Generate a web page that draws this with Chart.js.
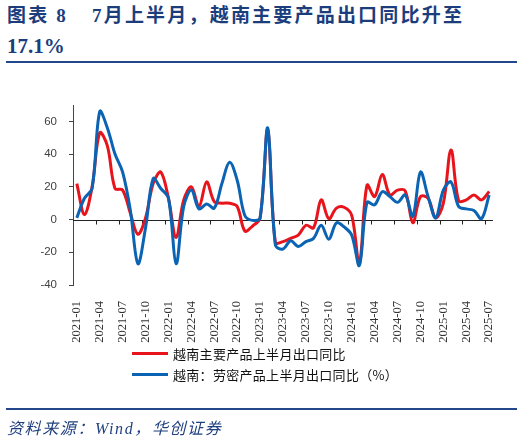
<!DOCTYPE html>
<html>
<head>
<meta charset="utf-8">
<script src="https://cdn.jsdelivr.net/npm/chart.js@4.4.1/dist/chart.umd.min.js"></script>
<style>
  html, body { margin: 0; padding: 0; background: #fff; }
  body { width: 524px; height: 443px; position: relative; overflow: hidden; }
  #chart { position: absolute; left: 0; top: 0; width: 524px; height: 443px; }
  .title { position: absolute; color: #1c3d7c; font-weight: bold; white-space: nowrap;
           font-family: 'Liberation Serif', 'Noto Sans CJK SC', serif; }
  .rule { position: absolute; left: 6px; width: 511px; height: 2px; background: #23478a; }
  #source { position: absolute; left: 7px; top: 421px; font-size: 16px; line-height: 16px;
            font-style: italic; color: #1f3f7f; letter-spacing: 1.6px; white-space: nowrap;
            font-family: 'Liberation Serif', 'Noto Sans CJK SC', serif; }
  #legend { position: absolute; left: 132px; top: 343px; }
  .item { height: 21px; display: flex; align-items: center; }
  .swatch { width: 36px; height: 3px; margin-right: 5px; }
  .item span { font-family: 'Noto Sans CJK SC', sans-serif; font-size: 13px; color: #111;
               letter-spacing: 0.3px; white-space: nowrap; }
</style>
</head>
<body>
<div class="title" style="left:7px;top:6px;font-size:19px;line-height:19px;letter-spacing:2.2px;">图表 8</div>
<div class="title" style="left:92px;top:6px;font-size:19px;line-height:19px;letter-spacing:2.2px;">7月上半月，越南主要产品出口同比升至</div>
<div class="title" style="left:7px;top:36px;font-size:21px;line-height:21px;">17.1%</div>
<div class="rule" style="top:61px;"></div>
<canvas id="chart" width="524" height="443"></canvas>
<div id="legend"></div>
<div class="rule" style="top:408px;"></div>
<div id="source">资料来源：Wind，华创证券</div>

<script>
// 月份（每月上半月）
const months = [
  '2021-01','2021-02','2021-03','2021-04','2021-05','2021-06','2021-07','2021-08','2021-09','2021-10','2021-11','2021-12',
  '2022-01','2022-02','2022-03','2022-04','2022-05','2022-06','2022-07','2022-08','2022-09','2022-10','2022-11','2022-12',
  '2023-01','2023-02','2023-03','2023-04','2023-05','2023-06','2023-07','2023-08','2023-09','2023-10','2023-11','2023-12',
  '2024-01','2024-02','2024-03','2024-04','2024-05','2024-06','2024-07','2024-08','2024-09','2024-10','2024-11','2024-12',
  '2025-01','2025-02','2025-03','2025-04','2025-05','2025-06','2025-07'
];

// 越南主要产品上半月出口同比（%）
const mainExports = [
  22, 3, 20, 53, 45, 19, 18, 4, -9, 1, 22, 29,
  13, -11, 12, 20, 8, 23, 11, 10, 10, 8, -7, -4,
  1, 55, -14, -13.5, -11.5, -9.5, -3.5, -5, 12, 0.5, 7, 7.5,
  2.5, -27, 21, 14, 27.5, 15, 18, 17.5, -2, 14, 13, 1,
  10, 42.5, 11.5, 12, 15, 12, 17.1
];

// 越南：劳密产品上半月出口同比（%）
const laborExports = [
  1, 13, 19, 66, 56, 40, 29, 6, -27, -5, 25, 19,
  13, -27, 8, 18, 6.5, 9.5, 7, 22, 35, 24, 2.5, -0.5,
  1, 56, -15.5, -18, -13, -16.5, -13.5, -11.5, -3.5, -12, -2, -4.5,
  -9.5, -28, 10.5, 9, 17, 14, 10.5, 15, 2, 29, 14, 1,
  18, 23, 8, 6.5, 5.5, 0.5, 15
];

const yTicks = [-40, -20, 0, 20, 40, 60];

const seriesNames = ['越南主要产品上半月出口同比', '越南：劳密产品上半月出口同比（%）'];
const seriesColors = ['#e8141c', '#0b63b3'];

// 零轴线和刻度线（画在折线下面）
const zeroAxis = {
  id: 'zeroAxis',
  beforeDatasetsDraw(chart) {
    const ctx = chart.ctx;
    const x = chart.scales.x;
    const y = chart.scales.y;
    const y0 = Math.round(y.getPixelForValue(0)) + 0.5;
    ctx.save();
    ctx.strokeStyle = '#222';
    ctx.lineWidth = 1;
    ctx.beginPath();
    ctx.moveTo(chart.chartArea.left, y0);
    ctx.lineTo(chart.chartArea.right, y0);
    for (let i = 3; i < months.length; i += 3) {
      const px = Math.round((x.getPixelForValue(i - 1) + x.getPixelForValue(i)) / 2) + 0.5;
      ctx.moveTo(px, y0);
      ctx.lineTo(px, y0 + 4);
    }
    ctx.stroke();
    ctx.restore();
  }
};

new Chart(document.getElementById('chart'), {
  type: 'line',
  data: {
    labels: months,
    datasets: [
      { label: seriesNames[0], data: mainExports, borderColor: seriesColors[0], order: 1 },
      { label: seriesNames[1], data: laborExports, borderColor: seriesColors[1], order: 0 }
    ]
  },
  options: {
    responsive: false,
    animation: false,
    layout: { padding: { left: 0, right: 31, top: 105, bottom: 98 } },
    elements: {
      line: { borderWidth: 3, tension: 0.35, fill: false },
      point: { radius: 0 }
    },
    plugins: { legend: { display: false }, tooltip: { enabled: false } },
    scales: {
      x: {
        offset: true,
        grid: { display: false },
        border: { display: false },
        afterFit(scale) { scale.height = 60; },
        ticks: {
          autoSkip: false,
          minRotation: 90,
          maxRotation: 90,
          padding: 8,
          color: '#333',
          font: { family: 'Liberation Serif', size: 12.5 },
          callback(value, index) { return index % 3 === 0 ? months[index] : ''; }
        }
      },
      y: {
        min: -40,
        max: 70,
        afterBuildTicks(scale) { scale.ticks = yTicks.map(v => ({ value: v })); },
        afterFit(scale) { scale.width = 73; },
        grid: { drawOnChartArea: false, drawTicks: true, tickLength: 4, color: '#444' },
        border: { display: true, color: '#444', width: 1 },
        ticks: {
          padding: 12,
          color: '#404040',
          font: { family: 'Liberation Sans', size: 11.5 }
        }
      }
    }
  },
  plugins: [zeroAxis]
});

// 图例
const legend = document.getElementById('legend');
seriesNames.forEach((name, i) => {
  const row = document.createElement('div');
  row.className = 'item';
  row.innerHTML = '<div class="swatch" style="background:' + seriesColors[i] + '"></div><span>' + name + '</span>';
  legend.appendChild(row);
});
</script>
</body>
</html>
